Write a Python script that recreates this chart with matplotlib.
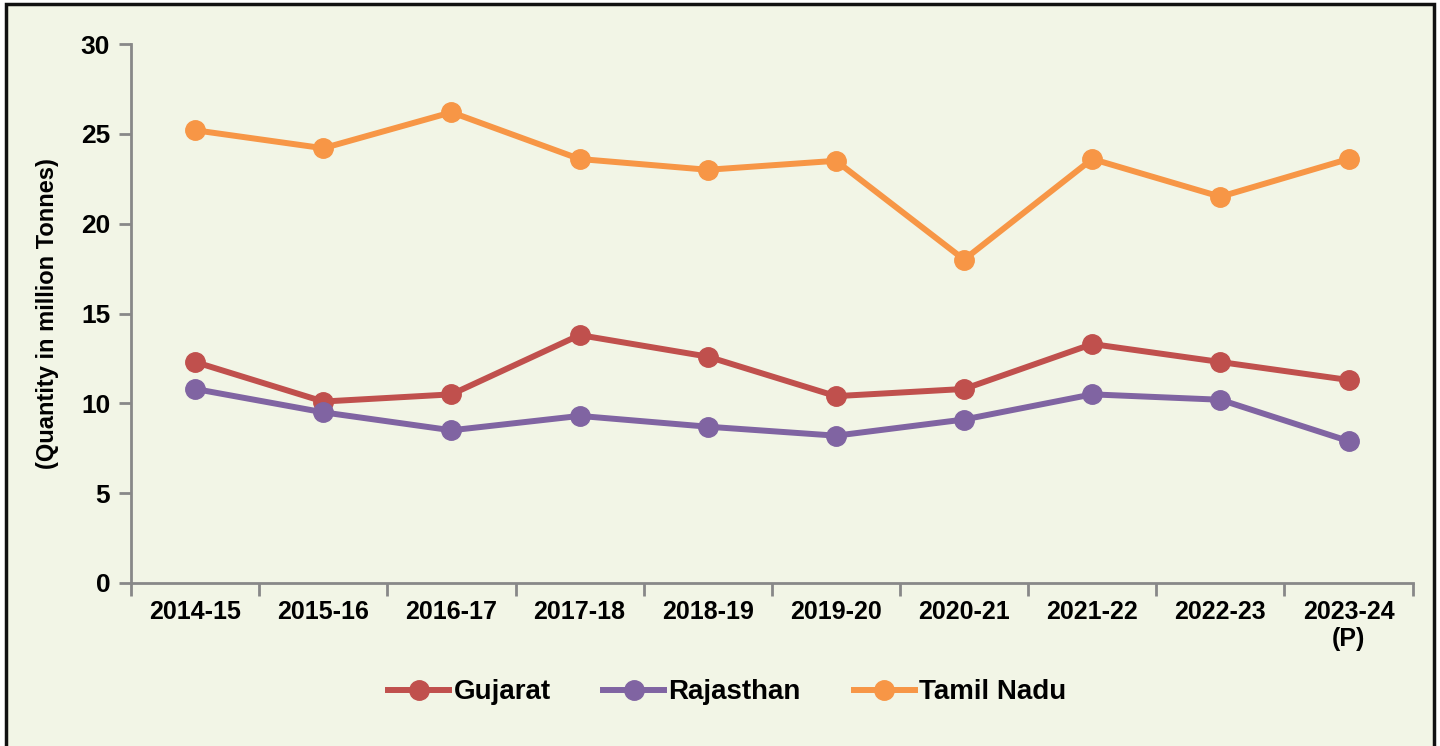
import matplotlib.pyplot as plt
from matplotlib.patches import Rectangle

years = ["2014-15", "2015-16", "2016-17", "2017-18", "2018-19",
         "2019-20", "2020-21", "2021-22", "2022-23", "2023-24\n(P)"]
gujarat = [12.3, 10.1, 10.5, 13.8, 12.6, 10.4, 10.8, 13.3, 12.3, 11.3]
rajasthan = [10.8, 9.5, 8.5, 9.3, 8.7, 8.2, 9.1, 10.5, 10.2, 7.9]
tamil_nadu = [25.2, 24.2, 26.2, 23.6, 23.0, 23.5, 18.0, 23.6, 21.5, 23.6]

plt.rcParams['font.family'] = ['Liberation Sans', 'DejaVu Sans']
plt.rcParams['font.weight'] = 'bold'
plt.rcParams['axes.labelweight'] = 'bold'

bg = '#F2F5E6'
fig = plt.figure(figsize=(14.4, 7.46), dpi=100, facecolor='white')
fig.patches.append(Rectangle((0.004, -0.01), 0.992, 1.004, transform=fig.transFigure,
                             facecolor=bg, edgecolor='#111111', linewidth=2.5, zorder=-1))
ax = fig.add_axes([0.091, 0.2185, 0.890, 0.7225])
ax.set_facecolor(bg)

x = range(len(years))
series = [("Gujarat", gujarat, '#C0504D'),
          ("Rajasthan", rajasthan, '#8064A2'),
          ("Tamil Nadu", tamil_nadu, '#F79646')]
for name, vals, col in series:
    ax.plot(x, vals, color=col, linewidth=4.3, marker='o', markersize=14, label=name)

ax.set_xlim(-0.5, len(years) - 0.5)
ax.set_ylim(0, 30)
ax.set_yticks(range(0, 31, 5))
ax.set_xticks([i + 0.5 for i in range(-1, len(years))])
ax.set_xticklabels([])
ax.set_xticks(list(x), minor=True)
ax.set_xticklabels(years, minor=True, fontsize=18)
ax.tick_params(axis='x', which='minor', length=0, pad=12)
ax.tick_params(axis='x', which='major', length=9, color='#888888', width=2)
ax.tick_params(axis='y', length=9, color='#888888', width=2, labelsize=19, pad=6)

for s in ['top', 'right']:
    ax.spines[s].set_visible(False)
for s in ['left', 'bottom']:
    ax.spines[s].set_color('#888888')
    ax.spines[s].set_linewidth(2)

ax.set_ylabel("(Quantity in million Tonnes)", fontsize=17, labelpad=16)

handles, labels = ax.get_legend_handles_labels()
fig.legend(handles, labels, loc='center', bbox_to_anchor=(0.505, 0.072), ncol=3,
           frameon=False, fontsize=20, handlelength=2.2, columnspacing=1.9,
           handletextpad=0.15)

fig.savefig("out.png", dpi=100, facecolor='white')
